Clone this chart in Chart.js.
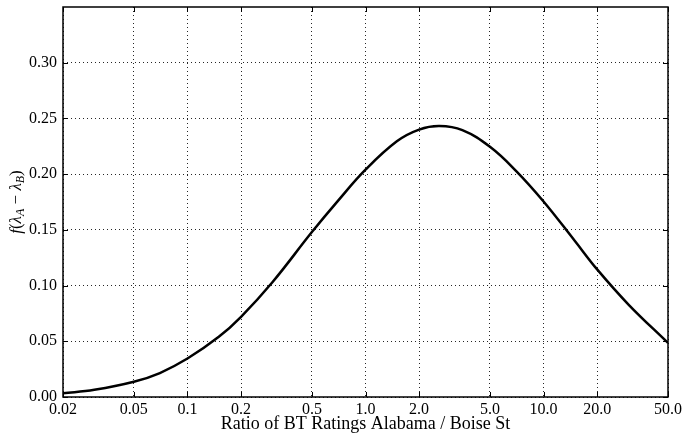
<!DOCTYPE html>
<html><head><meta charset="utf-8">
<script src="https://cdn.jsdelivr.net/npm/chart.js@4/dist/chart.umd.min.js"></script>
<style>html,body{margin:0;padding:0;background:#fff}#wrap{width:686px;height:436px}</style>
</head><body><div id="wrap"><canvas id="c" width="686" height="436"></canvas></div>
<script>
const ratio   = [0.02, 0.03, 0.05, 0.07, 0.1, 0.15, 0.2, 0.3, 0.5, 0.7, 1.0, 1.5, 2.0, 2.6, 3.5, 5.0, 7.0, 10, 15, 20, 30, 50];
const density = [0.0033, 0.0065, 0.0137, 0.0215, 0.0345, 0.054, 0.072, 0.103, 0.148, 0.176, 0.204, 0.2295, 0.240, 0.2432, 0.2395, 0.2245, 0.203, 0.1755, 0.140, 0.1145, 0.083, 0.0485];
const xTickValues = [0.02, 0.05, 0.1, 0.2, 0.5, 1, 2, 5, 10, 20, 50];
const xTickLabels = ['0.02', '0.05', '0.1', '0.2', '0.5', '1.0', '2.0', '5.0', '10.0', '20.0', '50.0'];
const yTickValues = [0, 0.05, 0.1, 0.15, 0.2, 0.25, 0.3];
const yTickLabels = ['0.00', '0.05', '0.10', '0.15', '0.20', '0.25', '0.30'];
const xTitle = 'Ratio of BT Ratings Alabama / Boise St';
const yTitleParts = [['f', 'i'], ['(', 'r'], ['λ', 'i'], ['A', 's'], [' − ', 'r'], ['λ', 'i'], ['B', 's'], [')', 'r']];

const FAM = "'Liberation Serif', 'Times New Roman', serif";

const framePlugin = {
  id: 'frame',
  afterDraw(chart) {
    const {ctx, chartArea: a, scales: {x, y}} = chart;
    ctx.save();
    ctx.strokeStyle = '#000';
    ctx.lineWidth = 1;
    ctx.beginPath();
    xTickValues.forEach(v => {
      const p = Math.round(x.getPixelForValue(v)) + 0.5;
      ctx.moveTo(p, a.bottom); ctx.lineTo(p, a.bottom - 5);
      ctx.moveTo(p, a.top); ctx.lineTo(p, a.top + 5);
    });
    yTickValues.forEach(v => {
      const p = Math.round(y.getPixelForValue(v)) + 0.5;
      ctx.moveTo(a.left, p); ctx.lineTo(a.left + 5, p);
      ctx.moveTo(a.right, p); ctx.lineTo(a.right - 5, p);
    });
    ctx.stroke();
    ctx.lineWidth = 1.5;
    ctx.strokeRect(a.left, a.top, a.right - a.left, a.bottom - a.top);
    // y title
    const fonts = {i: 'italic 17px ' + FAM, r: '17px ' + FAM, s: 'italic 12px ' + FAM};
    let total = 0;
    yTitleParts.forEach(([t, k]) => { ctx.font = fonts[k]; total += ctx.measureText(t).width; });
    ctx.translate(16, (a.top + a.bottom) / 2);
    ctx.rotate(-Math.PI / 2);
    ctx.fillStyle = '#000';
    ctx.textBaseline = 'alphabetic';
    let u = -total / 2;
    yTitleParts.forEach(([t, k]) => {
      ctx.font = fonts[k];
      ctx.fillText(t, u, k === 's' ? 8 : 5);
      u += ctx.measureText(t).width;
    });
    ctx.restore();
  }
};

new Chart(document.getElementById('c'), {
  type: 'line',
  data: {
    datasets: [{
      data: ratio.map((r, i) => ({x: r, y: density[i]})),
      borderColor: '#000',
      borderWidth: 2.5,
      pointRadius: 0,
      fill: false,
      tension: 0.4
    }]
  },
  options: {
    responsive: false,
    devicePixelRatio: 1,
    animation: false,
    layout: {padding: {left: 0, right: 18, top: 7, bottom: 0}},
    plugins: {legend: {display: false}, tooltip: {enabled: false}},
    scales: {
      x: {
        type: 'logarithmic',
        min: 0.02, max: 50,
        afterBuildTicks: s => { s.ticks = xTickValues.map(v => ({value: v})); },
        afterFit: s => { s.height = 39; s.paddingLeft = 0; s.paddingRight = 0; },
        ticks: {
          autoSkip: false, maxRotation: 0, padding: 3, color: '#000',
          font: {family: FAM, size: 16},
          callback: (v, i) => xTickLabels[i]
        },
        grid: {color: 'rgba(0,0,0,0.85)', lineWidth: 1, drawTicks: false},
        border: {display: false, dash: [1, 3]},
        title: {display: true, text: xTitle, color: '#000', font: {family: FAM, size: 18}, padding: {top: 0, bottom: 1}}
      },
      y: {
        min: 0, max: 0.35,
        afterBuildTicks: s => { s.ticks = yTickValues.map(v => ({value: v})); },
        afterFit: s => { s.width = 63; s.paddingTop = 0; s.paddingBottom = 0; },
        ticks: {
          padding: 6, color: '#000',
          font: {family: FAM, size: 16},
          callback: (v, i) => yTickLabels[i]
        },
        grid: {color: 'rgba(0,0,0,0.85)', lineWidth: 1, drawTicks: false},
        border: {display: false, dash: [1, 3]}
      }
    }
  },
  plugins: [framePlugin]
});
</script>
</body></html>
